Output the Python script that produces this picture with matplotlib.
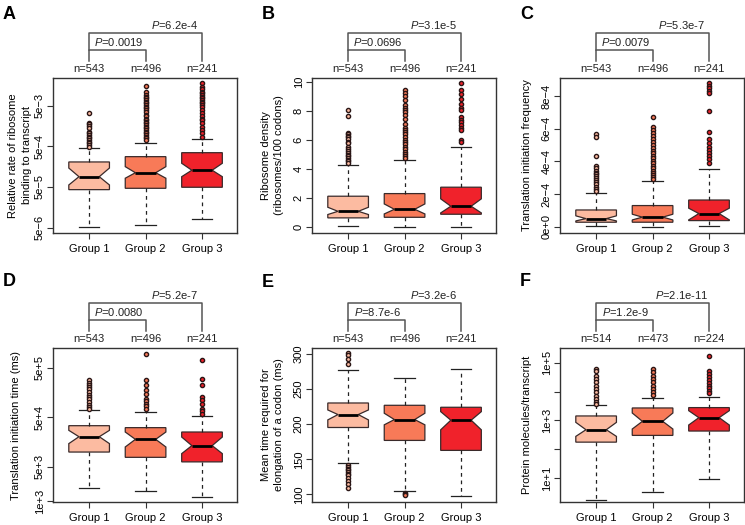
import numpy as np
import matplotlib
matplotlib.use("Agg")
import matplotlib.pyplot as plt
from matplotlib.ticker import NullLocator

plt.rcParams['font.family'] = ['Liberation Sans', 'DejaVu Sans']
plt.rcParams['mathtext.fontset'] = 'custom'
plt.rcParams['mathtext.it'] = 'Liberation Sans:italic'
plt.rcParams['mathtext.rm'] = 'Liberation Sans'

groups = ['Group 1', 'Group 2', 'Group 3']
colors = ['#FCBBA1', '#F87A58', '#F0222B']

# ---- panel A: relative rate of ribosome binding (log) ----
A_med = [8.95e-5, 1.12e-4, 1.29e-4]
A_q1 = [4.3e-5, 4.64e-5, 4.92e-5]
A_q3 = [2.06e-4, 2.78e-4, 3.48e-4]
A_lo = [5.3e-6, 5.82e-6, 8.2e-6]
A_hi = [4.5e-4, 5.93e-4, 7.43e-4]
A_cilo = [5.6e-5, 8.2e-5, 8.95e-5]
A_cihi = [1.46e-4, 1.58e-4, 1.91e-4]
A_fliers = [
    [3.2e-3, 1.9e-3, 1.75e-3, 1.6e-3, 1.4e-3, 1.15e-3, 1.05e-3, 9.5e-4, 8.6e-4,
     7.9e-4, 7.1e-4, 6.5e-4, 5.9e-4, 5.4e-4, 4.9e-4],
    [1.54e-2, 1.1e-2, 9.1e-3, 8.3e-3, 7.55e-3, 6.9e-3, 6.2e-3, 5.7e-3, 5.2e-3,
     4.7e-3, 4.3e-3, 3.9e-3, 3.55e-3, 2.9e-3, 2.7e-3, 2.4e-3, 2.2e-3, 2.0e-3,
     1.84e-3, 1.67e-3, 1.52e-3, 1.38e-3, 1.26e-3, 1.14e-3, 1.04e-3, 9.5e-4,
     8.6e-4, 7.9e-4, 7.1e-4],
    [1.83e-2, 1.41e-2, 1.26e-2, 1.1e-2, 1.0e-2, 9.1e-3, 8.3e-3, 7.55e-3, 6.9e-3,
     6.2e-3, 5.7e-3, 5.2e-3, 4.7e-3, 3.9e-3, 3.2e-3, 2.7e-3, 2.4e-3, 2.2e-3,
     1.84e-3, 1.52e-3, 1.26e-3, 1.04e-3, 8.6e-4],
]
A_n = [543, 496, 241]

# ---- panel B: ribosome density ----
B_med = [1.10, 1.24, 1.45]
B_q1 = [0.65, 0.69, 0.90]
B_q3 = [2.14, 2.32, 2.76]
B_lo = [0.07, 0.03, 0.03]
B_hi = [4.32, 4.60, 5.52]
B_cilo = [0.88, 0.92, 0.99]
B_cihi = [1.38, 1.61, 1.96]
B_fliers = [
    [8.1, 7.65, 6.5, 6.4, 6.3, 6.2, 6.05, 5.9, 5.8, 5.5, 5.4, 5.25, 5.1, 5.0,
     4.9, 4.8, 4.65, 4.55, 4.45],
    [9.47, 9.27, 9.01, 8.74, 8.39, 8.23, 8.1, 7.93, 7.7, 7.48, 7.08, 6.85, 6.72,
     6.55, 6.39, 6.21, 6.03, 5.86, 5.7, 5.52, 5.36, 5.17, 5.01, 4.88, 4.76],
    [9.93, 9.43, 9.15, 8.86, 8.46, 8.23, 8.1, 7.59, 7.41, 7.24, 7.01, 6.85,
     6.72, 5.98, 5.86],
]
B_n = [543, 496, 241]

# ---- panel C: translation initiation frequency ----
C_med = [0.49e-4, 0.58e-4, 0.80e-4]
C_q1 = [0.27e-4, 0.27e-4, 0.37e-4]
C_q3 = [1.02e-4, 1.29e-4, 1.63e-4]
C_lo = [0.04e-4, 0.0, 0.01e-4]
C_hi = [2.08e-4, 2.82e-4, 3.51e-4]
C_cilo = [0.35e-4, 0.41e-4, 0.41e-4]
C_cihi = [0.66e-4, 0.76e-4, 1.13e-4]
C_fliers = [
    [5.68e-4, 5.51e-4, 4.35e-4, 3.74e-4, 3.58e-4, 3.43e-4, 3.31e-4, 3.23e-4,
     3.1e-4, 3.0e-4, 2.86e-4, 2.74e-4, 2.6e-4, 2.45e-4, 2.31e-4, 2.19e-4],
    [6.7e-4, 6.09e-4, 5.92e-4, 5.76e-4, 5.55e-4, 5.35e-4, 5.2e-4, 5.0e-4,
     4.8e-4, 4.64e-4, 4.49e-4, 4.33e-4, 4.19e-4, 4.04e-4, 3.88e-4, 3.74e-4,
     3.58e-4, 3.43e-4, 3.31e-4, 3.17e-4, 3.03e-4, 2.9e-4],
    [8.78e-4, 8.62e-4, 8.47e-4, 8.33e-4, 8.17e-4, 7.09e-4, 5.82e-4, 5.35e-4,
     5.14e-4, 4.9e-4, 4.7e-4, 4.53e-4, 4.33e-4, 4.13e-4, 3.88e-4],
]
C_n = [543, 496, 241]

# ---- panel D: translation initiation time (log) ----
D_med = [2.0e4, 1.77e4, 1.32e4]
D_q1 = [9.8e3, 7.66e3, 6.2e3]
D_q3 = [3.34e4, 3.05e4, 2.49e4]
D_lo = [1.84e3, 1.57e3, 1.19e3]
D_hi = [6.8e4, 6.3e4, 5.3e4]
D_cilo = [1.45e4, 1.24e4, 9.1e3]
D_cihi = [2.69e4, 2.49e4, 1.97e4]
D_fliers = [
    [2.75e5, 2.47e5, 2.25e5, 2.02e5, 1.81e5, 1.6e5, 1.41e5, 1.27e5, 1.14e5,
     1.0e5, 8.9e4, 7.96e4, 7.4e4],
    [9.4e5, 2.75e5, 2.18e5, 1.73e5, 1.48e5, 1.17e5, 1.04e5, 9.3e4, 8.3e4, 7.4e4],
    [7.1e5, 2.88e5, 2.18e5, 1.27e5, 1.09e5, 9.3e4, 7.4e4, 6.5e4, 5.84e4],
]
D_n = [543, 496, 241]

# ---- panel E: mean elongation time per codon ----
E_med = [213.7, 206.6, 205.7]
E_q1 = [195.3, 176.9, 162.7]
E_q3 = [230.2, 226.9, 224.1]
E_lo = [144.8, 104.2, 97.2]
E_hi = [277.8, 266.0, 278.3]
E_cilo = [206.1, 199.1, 192.0]
E_cihi = [220.3, 215.6, 217.9]
E_fliers = [
    [301.9, 298.1, 293.4, 285.8, 141.5, 139.2, 136.8, 134.4, 132.1, 129.7,
     127.4, 123.6, 118.9, 114.2, 109.4],
    [102.4, 100.0, 98.6],
    [],
]
E_n = [543, 496, 241]

# ---- panel F: protein molecules per transcript (log) ----
F_med = [472, 923, 1240]
F_q1 = [175, 300, 425]
F_q3 = [1420, 2690, 2770]
F_lo = [1.75, 3.16, 9.2]
F_hi = [3430, 6200, 6500]
F_cilo = [277, 499, 687]
F_cihi = [851, 1800, 2170]
F_fliers = [
    [6.2e4, 5.1e4, 3.6e4, 2.77e4, 2.12e4, 1.62e4, 1.24e4, 9.5e3, 7.2e3, 5.5e3,
     4.5e3, 3.7e3],
    [6.2e4, 4.7e4, 3.6e4, 2.77e4, 2.12e4, 1.62e4, 1.24e4, 9.5e3, 7.65e3],
    [1.75e5, 5.3e4, 4.1e4, 3.16e4, 2.42e4, 2.0e4, 1.62e4, 1.31e4, 1.08e4, 8.98e3],
]
F_n = [514, 473, 224]

p_values = {
    'A': ('0.0019', '6.2e-4'),
    'B': ('0.0696', '3.1e-5'),
    'C': ('0.0079', '5.3e-7'),
    'D': ('0.0080', '5.2e-7'),
    'E': ('8.7e-6', '3.2e-6'),
    'F': ('1.2e-9', '2.1e-11'),
}

dark = '#333333'
fs = 8


def up(px):
    # offset above the top of the axes, in pixels of an ~155 px high axes
    return 1 + px / 155.0


def panel(ax, med, q1, q3, lo, hi, cilo, cihi, fliers, n, key):
    stats = []
    for i in range(3):
        stats.append(dict(med=med[i], q1=q1[i], q3=q3[i], whislo=lo[i],
                          whishi=hi[i], cilo=cilo[i], cihi=cihi[i],
                          fliers=fliers[i]))
    art = ax.bxp(stats, positions=[1, 2, 3], widths=0.72, shownotches=True,
                 patch_artist=True,
                 boxprops=dict(edgecolor='#3a2a2a', linewidth=0.9),
                 whiskerprops=dict(color='#222222', linewidth=0.9,
                                   linestyle=(0, (3, 3))),
                 capprops=dict(color='#222222', linewidth=0.9),
                 medianprops=dict(color='black', linewidth=2.0),
                 flierprops=dict(marker='o', markersize=3.0,
                                 markeredgecolor='#2a1616',
                                 markeredgewidth=1.0))
    for patch, c in zip(art['boxes'], colors):
        patch.set_facecolor(c)
    for fl, c in zip(art['fliers'], colors):
        fl.set_markerfacecolor(c)

    ax.set_xlim(0.36, 3.62)
    ax.set_xticks([1, 2, 3], groups)
    ax.tick_params(axis='both', direction='out', length=4, width=0.8,
                   color=dark, labelsize=fs)
    ax.tick_params(axis='x', pad=4)
    ax.tick_params(axis='y', pad=2)
    for s in ax.spines.values():
        s.set_color(dark)
        s.set_linewidth(1.0)

    trans = ax.get_xaxis_transform()
    lc = '#555555'
    ax.plot([1, 1, 2, 2], [up(17), up(28), up(28), up(17)], transform=trans,
            clip_on=False, color=lc, lw=1.1)
    ax.plot([1, 1, 3, 3], [up(28), up(45), up(45), up(17)], transform=trans,
            clip_on=False, color=lc, lw=1.1)
    p12, p13 = p_values[key]
    ax.text(1.52, up(36), r'$\mathit{P}$=' + p12, transform=trans,
            ha='center', va='center', fontsize=fs, color='#222222')
    ax.text(2.52, up(53), r'$\mathit{P}$=' + p13, transform=trans,
            ha='center', va='center', fontsize=fs, color='#222222')
    for i in range(3):
        ax.text(i + 1, up(9), 'n=%d' % n[i], transform=trans,
                ha='center', va='center', fontsize=fs, color='#222222')


fig = plt.figure(figsize=(7.45, 5.25), dpi=100)
W, H = 745.0, 525.0
lefts = [53, 312, 560]
width = 184


def make_ax(col, top, bottom):
    return fig.add_axes([lefts[col] / W, (H - bottom) / H, width / W,
                         (bottom - top) / H])


axA = make_ax(0, 78, 233)
axB = make_ax(1, 78, 233)
axC = make_ax(2, 78, 233)
axD = make_ax(0, 348, 502)
axE = make_ax(1, 348, 502)
axF = make_ax(2, 348, 502)

panel(axA, A_med, A_q1, A_q3, A_lo, A_hi, A_cilo, A_cihi, A_fliers, A_n, 'A')
panel(axB, B_med, B_q1, B_q3, B_lo, B_hi, B_cilo, B_cihi, B_fliers, B_n, 'B')
panel(axC, C_med, C_q1, C_q3, C_lo, C_hi, C_cilo, C_cihi, C_fliers, C_n, 'C')
panel(axD, D_med, D_q1, D_q3, D_lo, D_hi, D_cilo, D_cihi, D_fliers, D_n, 'D')
panel(axE, E_med, E_q1, E_q3, E_lo, E_hi, E_cilo, E_cihi, E_fliers, E_n, 'E')
panel(axF, F_med, F_q1, F_q3, F_lo, F_hi, F_cilo, F_cihi, F_fliers, F_n, 'F')

# y axes
axA.set_yscale('log')
axA.set_ylim(3.7e-6, 2.38e-2)
axA.set_yticks([5e-6, 5e-5, 5e-4, 5e-3],
               ['5e\u22126', '5e\u22125', '5e\u22124', '5e\u22123'])
axB.set_ylim(-0.39, 10.27)
axB.set_yticks([0, 2, 4, 6, 8, 10])
axC.set_ylim(-0.39e-4, 9.1e-4)
axC.set_yticks([0, 2e-4, 4e-4, 6e-4, 8e-4],
               ['0e+0', '2e\u22124', '4e\u22124', '6e\u22124', '8e\u22124'])
axD.set_yscale('log')
axD.set_ylim(959, 1.24e6)
axD.set_yticks([1e3, 5e3, 5e4, 5e5], ['1e+3', '5e+3', '5e+4', '5e+5'])
axE.set_ylim(89.2, 308.5)
axE.set_yticks([100, 150, 200, 250, 300])
axF.set_yscale('log')
axF.set_ylim(1.46, 3.25e5)
axF.set_yticks([1e1, 1e2, 1e3, 1e4, 1e5], ['1e+1', '', '1e+3', '', '1e+5'])

for ax in [axA, axB, axC, axD, axE, axF]:
    ax.yaxis.set_minor_locator(NullLocator())
    for lbl in ax.get_yticklabels():
        lbl.set_rotation(90)
        lbl.set_va('center')

# label x positions are the right edge of the (rotated) text block
labels = [
    (axA, 'Relative rate of ribosome\nbinding to transcript', -0.115),
    (axB, 'Ribosome density\n(ribosomes/100 codons)', -0.15),
    (axC, 'Translation initiation frequency', -0.15),
    (axD, 'Translation initiation time (ms)', -0.175),
    (axE, 'Mean time required for\nelongation of a codon (ms)', -0.15),
    (axF, 'Protein molecules/transcript', -0.15),
]
for ax, txt, xpos in labels:
    ax.set_ylabel(txt, fontsize=fs, linespacing=1.45)
    ax.yaxis.set_label_coords(xpos, 0.5)

# panel letters
for letter, x, y in [('A', 3, 6), ('B', 262, 6), ('C', 520, 6),
                     ('D', 3, 273), ('E', 262, 274), ('F', 520, 273)]:
    fig.text(x / W, 1 - y / H, letter, fontsize=13, fontweight='bold',
             ha='left', va='top')

fig.savefig('out.png', dpi=100)
